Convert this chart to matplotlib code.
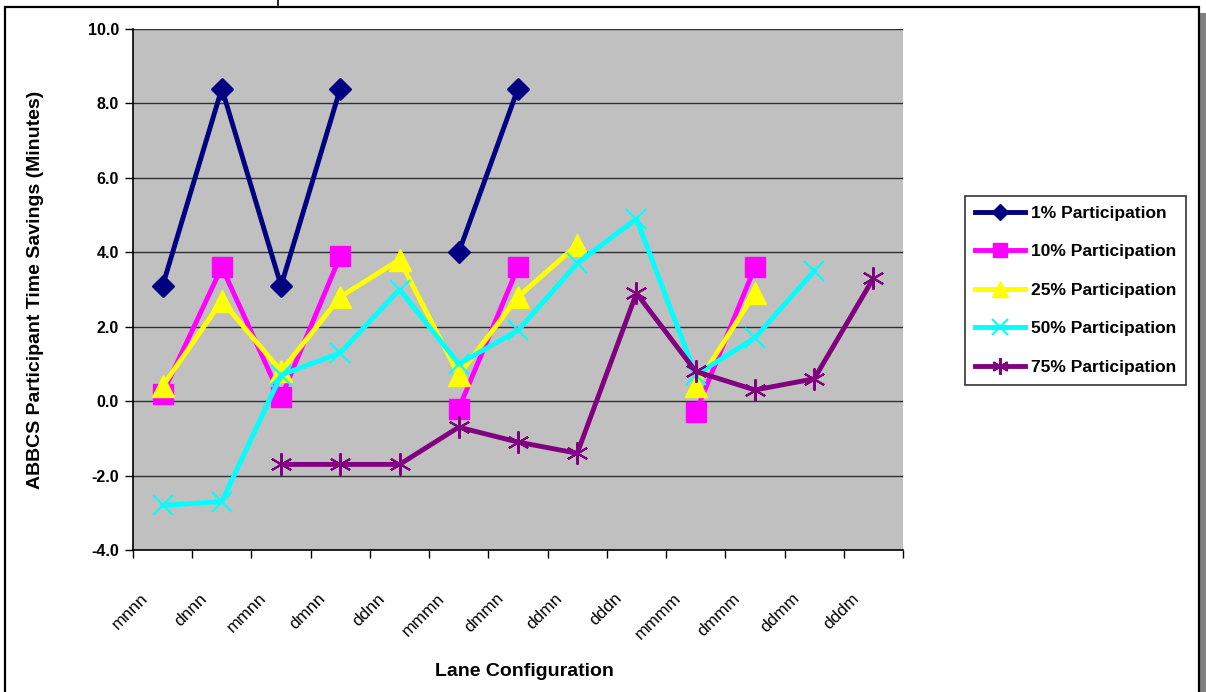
import numpy as np
import matplotlib
matplotlib.use("Agg")
import matplotlib.pyplot as plt
from matplotlib.lines import Line2D
from matplotlib.patches import Rectangle
from matplotlib.transforms import ScaledTranslation, blended_transform_factory

categories = ["mnnn", "dnnn", "mmnn", "dmnn", "ddnn", "mmmn", "dmmn",
              "ddmn", "dddn", "mmmm", "dmmm", "ddmm", "dddm"]
N = None
p1 = [3.1, 8.4, 3.1, 8.4, N, 4.0, 8.4, N, N, N, N, N, N]
p10 = [0.2, 3.6, 0.1, 3.9, N, -0.2, 3.6, N, N, -0.3, 3.6, N, N]
p25 = [0.4, 2.7, 0.8, 2.8, 3.8, 0.7, 2.8, 4.2, N, 0.4, 2.9, N, N]
p50 = [-2.8, -2.7, 0.7, 1.3, 3.0, 1.0, 1.9, 3.7, 4.9, 0.7, 1.7, 3.5, N]
p75 = [N, N, -1.7, -1.7, -1.7, -0.7, -1.1, -1.4, 2.9, 0.8, 0.3, 0.6, 3.3]
series_labels = ["1% Participation", "10% Participation", "25% Participation",
                 "50% Participation", "75% Participation"]
yticks = [-4.0, -2.0, 0.0, 2.0, 4.0, 6.0, 8.0, 10.0]

W, H = 1206, 692
fig = plt.figure(figsize=(W / 100, H / 100), dpi=100)
plt.rcParams['font.family'] = ['Liberation Sans', 'DejaVu Sans']

# outer frame with shadow (drawn beneath the axes)
fig.add_artist(Rectangle((1200 / W, 0), 6 / W, 1 - 13 / H, transform=fig.transFigure,
                         facecolor='#808080', edgecolor='none', zorder=-2))
fig.add_artist(Rectangle((5 / W, -0.01), 1194 / W, 1 - 7 / H + 0.01, transform=fig.transFigure,
                         facecolor='white', edgecolor='black', linewidth=1.6, zorder=-1))
fig.add_artist(Line2D([278 / W, 278 / W], [1, 1 - 5 / H], transform=fig.transFigure,
                      color='black', linewidth=1.2))

ax = fig.add_axes([133 / W, 1 - 550 / H, (903 - 133) / W, (550 - 29) / H])
ax.set_facecolor('#c0c0c0')
x = np.arange(len(categories))

def arr(v):
    return np.array([np.nan if a is None else a for a in v], dtype=float)

styles = [
    dict(color='#000080', marker='D', markersize=11),
    dict(color='#ff00ff', marker='s', markersize=14),
    dict(color='#ffff00', marker='^', markersize=16),
    dict(color='#00ffff', marker='x', markersize=15, markeredgewidth=1.5),
    dict(color='#800080', marker=(6, 2, 0), markersize=16, markeredgewidth=1.5),
]
handles = []
for data, lab, st in zip([p1, p10, p25, p50, p75], series_labels, styles):
    h, = ax.plot(x, arr(data), linewidth=3.5, label=lab, zorder=3, **st)
    handles.append(h)

ax.set_xlim(-0.5, len(categories) - 0.5)
ax.set_ylim(-4, 10)
ax.set_yticks(yticks)
ax.set_yticklabels([f"{t:.1f}" for t in yticks], fontsize=11.5, fontweight='bold')
ax.yaxis.grid(True, color='#303030', linewidth=1.0)
ax.set_axisbelow(True)

# category labels, rotated, placed through a data/axes blended transform
ax.set_xticks(np.arange(len(categories) + 1) - 0.5)
ax.set_xticklabels([])
label_tf = blended_transform_factory(ax.transData, ax.transAxes) + \
    ScaledTranslation(-17 / 100, -46 / 100, fig.dpi_scale_trans)
for xi, cat in zip(x, categories):
    ax.text(xi, 0, cat, transform=label_tf, rotation=45, ha='right', va='center',
            rotation_mode='anchor', fontsize=12.5, clip_on=False)

ax.tick_params(axis='x', length=6, direction='out', width=1)
ax.tick_params(axis='y', length=6, direction='out', width=1, pad=4)
for s in ['top', 'right']:
    ax.spines[s].set_visible(False)
for s in ['left', 'bottom']:
    ax.spines[s].set_linewidth(1.2)

ax.set_ylabel("ABBCS Participant Time Savings (Minutes)", fontsize=14,
              fontweight='bold')
ax.set_xlabel("Lane Configuration", fontsize=14, fontweight='bold')
ax.yaxis.set_label_coords(-0.116, 0.5)
ax.xaxis.set_label_coords(0.508, -0.216)

leg = fig.legend(handles=handles, loc='upper left',
                 bbox_to_anchor=(965 / W, 1 - 196 / H), frameon=True,
                 fancybox=False, edgecolor='black',
                 prop={'weight': 'bold', 'size': 12.5}, markerscale=0.75,
                 handlelength=2.9, labelspacing=1.35, borderpad=0.55,
                 handletextpad=0.35, borderaxespad=0)
leg.get_frame().set_linewidth(1.2)

fig.savefig("out.png", dpi=100)
